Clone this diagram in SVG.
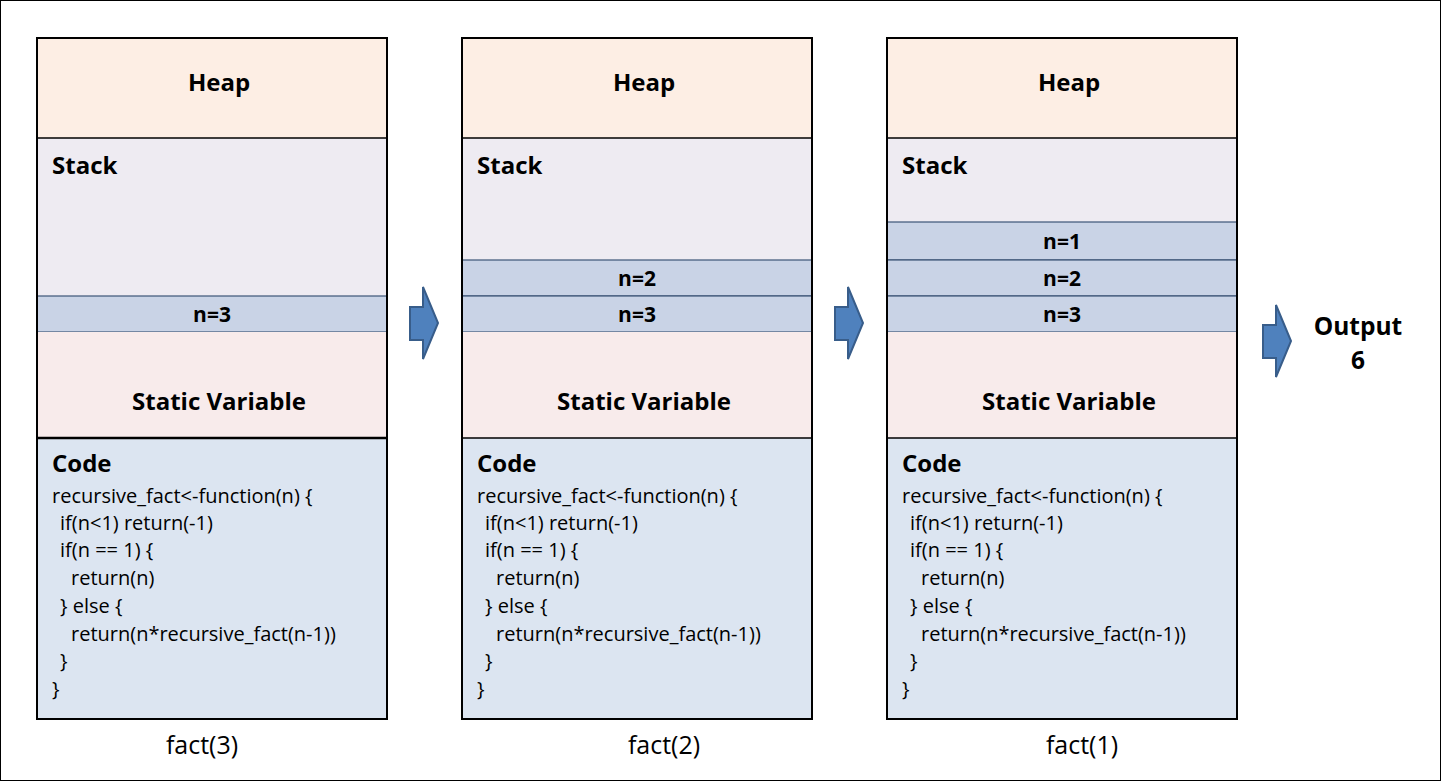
<svg xmlns="http://www.w3.org/2000/svg" width="1441" height="781" viewBox="0 0 1441 781">
<style>
text{font-family:"Open Sans",Lato,"Liberation Sans",sans-serif;fill:#000}
.b{font-weight:bold;font-size:24px}
.n{font-weight:bold;font-size:21px}
.c{font-size:20px}
.f{font-size:25px}
.heap{fill:#FDEEE4}
.stack{fill:#EEEBF2}
.nrow{fill:#C9D3E6;stroke:#3C5577;stroke-width:1.2}
.stat{fill:#F8EBEB}
.code{fill:#DCE5F1}
.sep{stroke:#000;stroke-width:1.5}
.frame{fill:none;stroke:#000;stroke-width:2}
.arrow{fill:#4F81BD;stroke:#385D8A;stroke-width:2}
.mid{text-anchor:middle}
</style>
<defs>
<polygon id="arr" class="arrow" points="0,20 13,20 13,0 28,36 13,72 13,53 0,53"/>
</defs>
<rect x="0.5" y="0.5" width="1440" height="780" fill="#fff" stroke="#000" stroke-width="1"/>

<g id="mem1">
<rect class="heap" x="37" y="38" width="350" height="100"/>
<rect class="stack" x="37" y="138" width="350" height="158"/>
<rect class="nrow" x="37" y="296" width="350" height="36"/>
<rect class="stat" x="37" y="332" width="350" height="106"/>
<rect class="code" x="37" y="438" width="350" height="281"/>
<line class="sep" x1="37" y1="138" x2="387" y2="138"/>
<line x1="37" y1="438" x2="387" y2="438" stroke="#000" stroke-width="2.5"/>
<rect class="frame" x="37" y="38" width="350" height="681"/>
<text class="b mid" x="219" y="91">Heap</text>
<text class="b" x="52" y="174">Stack</text>
<text class="n mid" x="212" y="322">n=3</text>
<text class="b mid" x="219" y="410">Static Variable</text>
<text class="b" x="52" y="472">Code</text>
<g class="c">
<text x="52" y="503">recursive_fact&lt;-function(n) {</text>
<text x="60" y="530">if(n&lt;1) return(-1)</text>
<text x="60" y="557">if(n == 1) {</text>
<text x="71" y="585">return(n)</text>
<text x="60" y="613">} else {</text>
<text x="71" y="641">return(n*recursive_fact(n-1))</text>
<text x="60" y="668">}</text>
<text x="52" y="696">}</text>
</g>
<text class="f mid" x="202" y="754">fact(3)</text>
</g>

<g id="mem2">
<rect class="heap" x="462" y="38" width="350" height="100"/>
<rect class="stack" x="462" y="138" width="350" height="122"/>
<rect class="nrow" x="462" y="260" width="350" height="36"/>
<rect class="nrow" x="462" y="296" width="350" height="36"/>
<rect class="stat" x="462" y="332" width="350" height="106"/>
<rect class="code" x="462" y="438" width="350" height="281"/>
<line class="sep" x1="462" y1="138" x2="812" y2="138"/>
<line class="sep" x1="462" y1="438" x2="812" y2="438"/>
<rect class="frame" x="462" y="38" width="350" height="681"/>
<text class="b mid" x="644" y="91">Heap</text>
<text class="b" x="477" y="174">Stack</text>
<text class="n mid" x="637" y="286">n=2</text>
<text class="n mid" x="637" y="322">n=3</text>
<text class="b mid" x="644" y="410">Static Variable</text>
<text class="b" x="477" y="472">Code</text>
<g class="c">
<text x="477" y="503">recursive_fact&lt;-function(n) {</text>
<text x="485" y="530">if(n&lt;1) return(-1)</text>
<text x="485" y="557">if(n == 1) {</text>
<text x="496" y="585">return(n)</text>
<text x="485" y="613">} else {</text>
<text x="496" y="641">return(n*recursive_fact(n-1))</text>
<text x="485" y="668">}</text>
<text x="477" y="696">}</text>
</g>
<text class="f mid" x="664" y="754">fact(2)</text>
</g>

<g id="mem3">
<rect class="heap" x="887" y="38" width="350" height="100"/>
<rect class="stack" x="887" y="138" width="350" height="84"/>
<rect class="nrow" x="887" y="222" width="350" height="38"/>
<rect class="nrow" x="887" y="260" width="350" height="36"/>
<rect class="nrow" x="887" y="296" width="350" height="36"/>
<rect class="stat" x="887" y="332" width="350" height="106"/>
<rect class="code" x="887" y="438" width="350" height="281"/>
<line class="sep" x1="887" y1="138" x2="1237" y2="138"/>
<line class="sep" x1="887" y1="438" x2="1237" y2="438"/>
<rect class="frame" x="887" y="38" width="350" height="681"/>
<text class="b mid" x="1069" y="91">Heap</text>
<text class="b" x="902" y="174">Stack</text>
<text class="n mid" x="1062" y="249">n=1</text>
<text class="n mid" x="1062" y="286">n=2</text>
<text class="n mid" x="1062" y="322">n=3</text>
<text class="b mid" x="1069" y="410">Static Variable</text>
<text class="b" x="902" y="472">Code</text>
<g class="c">
<text x="902" y="503">recursive_fact&lt;-function(n) {</text>
<text x="910" y="530">if(n&lt;1) return(-1)</text>
<text x="910" y="557">if(n == 1) {</text>
<text x="921" y="585">return(n)</text>
<text x="910" y="613">} else {</text>
<text x="921" y="641">return(n*recursive_fact(n-1))</text>
<text x="910" y="668">}</text>
<text x="902" y="696">}</text>
</g>
<text class="f mid" x="1082" y="754">fact(1)</text>
</g>

<g id="output">
<text class="b mid" x="1358" y="335" style="font-size:24.5px">Output</text>
<text class="b mid" x="1358" y="369" style="font-size:24.5px">6</text>
</g>

<g id="connectors">
<use href="#arr" x="410" y="287"/>
<use href="#arr" x="835" y="287"/>
<use href="#arr" x="1263" y="305"/>
</g>
</svg>
